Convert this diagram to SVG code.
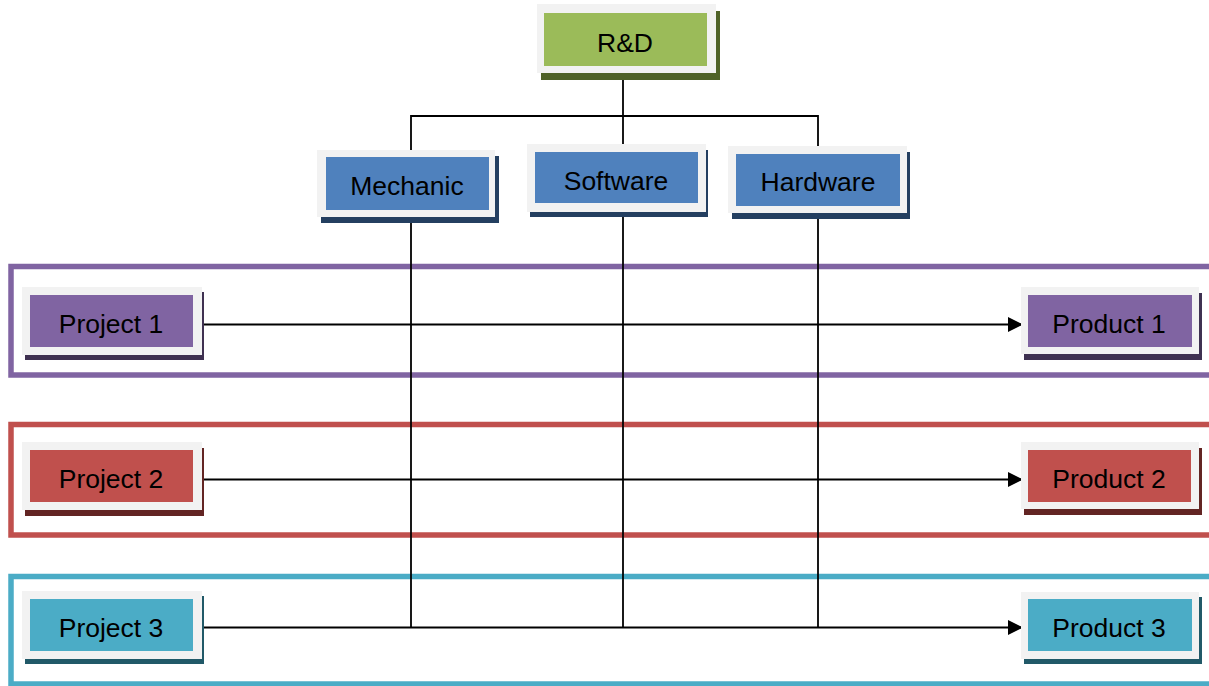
<svg xmlns="http://www.w3.org/2000/svg" width="1209" height="686" viewBox="0 0 1209 686">
  <defs>
    <marker id="arrow" viewBox="0 0 10 10" refX="10" refY="5" markerWidth="17" markerHeight="15" markerUnits="userSpaceOnUse" orient="auto">
      <path d="M0,0 L10,5 L0,10 Z" fill="#000"/>
    </marker>
  </defs>
  <style>
    .frame { fill: #F2F2F2; }
    .lbl { font-family: "Liberation Sans", Arial, sans-serif; font-size: 26.5px; fill: #000; text-anchor: middle; }
    .band { fill: none; stroke-width: 5.5; }
    .conn { fill: none; stroke: #000; stroke-width: 1.8; }
    .green .in { fill: #9BBB59; } .green .sh { fill: #4F6228; }
    .blue .in { fill: #4F81BD; } .blue .sh { fill: #243F60; }
    .purple .in { fill: #8064A2; } .purple .sh { fill: #3F3151; }
    .red .in { fill: #C0504D; } .red .sh { fill: #632523; }
    .teal .in { fill: #4BACC6; } .teal .sh { fill: #215968; }
  </style>
  <rect width="1209" height="686" fill="#fff"/>

  <g id="bands">
    <rect class="band" x="11" y="266.5" width="1210" height="108.5" stroke="#8064A2"/>
    <rect class="band" x="11" y="424.5" width="1210" height="110.5" stroke="#C0504D"/>
    <rect class="band" x="11" y="576.5" width="1210" height="107.5" stroke="#4BACC6"/>
  </g>

  <g id="connectors">
    <path class="conn" d="M623,80 V627.5"/>
    <path class="conn" d="M411,627.5 V116 H818 V627.5"/>
    <path class="conn" d="M202,324.5 H1023" marker-end="url(#arrow)"/>
    <path class="conn" d="M202,479.5 H1023" marker-end="url(#arrow)"/>
    <path class="conn" d="M202,627.5 H1023" marker-end="url(#arrow)"/>
  </g>

  <g id="rd" class="green">
    <rect class="sh" x="541" y="11" width="179" height="69"/>
    <rect class="frame" x="537" y="4" width="179" height="69"/>
    <rect class="in" x="544" y="13" width="163" height="53"/>
    <text class="lbl" x="625" y="52">R&amp;D</text>
  </g>

  <g id="mechanic" class="blue">
    <rect class="sh" x="321" y="156" width="178" height="67"/>
    <rect class="frame" x="317" y="150" width="178" height="67"/>
    <rect class="in" x="326" y="157" width="163" height="53"/>
    <text class="lbl" x="407" y="195">Mechanic</text>
  </g>

  <g id="software" class="blue">
    <rect class="sh" x="530" y="150" width="178" height="67"/>
    <rect class="frame" x="527" y="144" width="179" height="68"/>
    <rect class="in" x="535" y="152" width="163" height="51"/>
    <text class="lbl" x="616" y="190">Software</text>
  </g>

  <g id="hardware" class="blue">
    <rect class="sh" x="732" y="152" width="178" height="67"/>
    <rect class="frame" x="728" y="146" width="179" height="67"/>
    <rect class="in" x="736" y="154" width="164" height="52"/>
    <text class="lbl" x="818" y="191">Hardware</text>
  </g>

  <g id="project1" class="purple">
    <rect class="sh" x="25" y="292" width="179" height="68"/>
    <rect class="frame" x="22" y="287" width="180" height="68"/>
    <rect class="in" x="30" y="295" width="163" height="52"/>
    <text class="lbl" x="111" y="333">Project 1</text>
  </g>

  <g id="project2" class="red">
    <rect class="sh" x="25" y="448" width="179" height="68"/>
    <rect class="frame" x="22" y="442" width="180" height="68"/>
    <rect class="in" x="30" y="450" width="163" height="52"/>
    <text class="lbl" x="111" y="488">Project 2</text>
  </g>

  <g id="project3" class="teal">
    <rect class="sh" x="25" y="596" width="179" height="68"/>
    <rect class="frame" x="22" y="591" width="180" height="68"/>
    <rect class="in" x="30" y="599" width="163" height="52"/>
    <text class="lbl" x="111" y="637">Project 3</text>
  </g>

  <g id="product1" class="purple">
    <rect class="sh" x="1024" y="293" width="178" height="67"/>
    <rect class="frame" x="1021" y="287" width="178" height="67"/>
    <rect class="in" x="1028" y="295" width="164" height="52"/>
    <text class="lbl" x="1109" y="333">Product 1</text>
  </g>

  <g id="product2" class="red">
    <rect class="sh" x="1024" y="448" width="178" height="67"/>
    <rect class="frame" x="1021" y="442" width="178" height="67"/>
    <rect class="in" x="1028" y="450" width="163" height="52"/>
    <text class="lbl" x="1109" y="488">Product 2</text>
  </g>

  <g id="product3" class="teal">
    <rect class="sh" x="1024" y="597" width="178" height="67"/>
    <rect class="frame" x="1021" y="592" width="178" height="67"/>
    <rect class="in" x="1028" y="599" width="164" height="52"/>
    <text class="lbl" x="1109" y="637">Product 3</text>
  </g>
</svg>
